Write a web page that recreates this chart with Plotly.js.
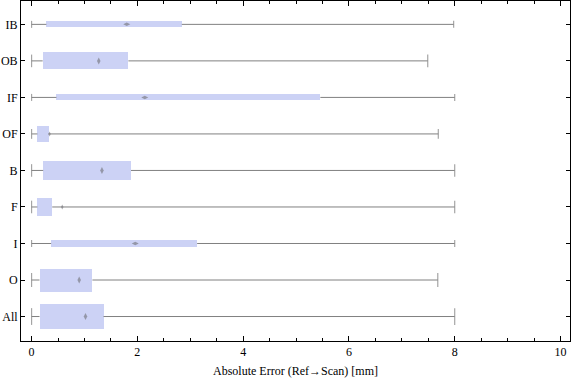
<!DOCTYPE html>
<html>
<head>
<meta charset="utf-8">
<script src="https://cdn.plot.ly/plotly-3.0.1.min.js"></script>
<style>html,body{margin:0;padding:0;background:#fff;}#chart{width:576px;height:381px;}</style>
</head>
<body>
<div id="chart"></div>
<script>
// Data (bottom to top)
const categories = ['All', 'O', 'I', 'F', 'B', 'OF', 'IF', 'OB', 'IB'];
const minVals    = [0, 0, 0, 0, 0, 0, 0, 0, 0];
const q1Vals     = [0.15, 0.15, 0.37, 0.11, 0.22, 0.11, 0.47, 0.21, 0.28];
const medianVals = [1.02, 0.90, 1.96, 0.58, 1.33, 0.34, 2.14, 1.27, 1.80];
const q3Vals     = [1.36, 1.15, 3.13, 0.39, 1.88, 0.32, 5.46, 1.83, 2.84];
const maxVals    = [8.00, 7.68, 8.00, 8.00, 8.00, 7.69, 8.00, 7.49, 7.98];

// Styles
const boxWidths   = [0.68, 0.63, 0.21, 0.48, 0.50, 0.44, 0.16, 0.47, 0.16];
const capSizes    = [12, 10, 5, 9, 9, 7, 5, 9, 5];
const medSymbols  = ['diamond-tall','diamond-tall','diamond-wide','diamond-tall','diamond-tall','diamond-tall','diamond-wide','diamond-tall','diamond-wide'];
const medSizes    = [5, 5, 5, 3.5, 5, 3.5, 5, 5, 5];

const ypos = categories.map((c, i) => i + 1);
const gray = 'rgb(128,128,128)';

// whisker segments
const wx = [], wy = [];
ypos.forEach((y, i) => {
  wx.push(minVals[i], q1Vals[i], null, q3Vals[i], maxVals[i], null);
  wy.push(y, y, null, y, y, null);
});

const capX = [], capY = [], capS = [];
ypos.forEach((y, i) => {
  capX.push(minVals[i], maxVals[i]);
  capY.push(y, y);
  capS.push(capSizes[i], capSizes[i]);
});

const traces = [
  {
    type: 'bar', orientation: 'h',
    y: ypos, x: q3Vals.map((v, i) => v - q1Vals[i]), base: q1Vals,
    width: boxWidths,
    marker: {color: 'rgb(204,210,245)', line: {width: 0}},
    hoverinfo: 'skip', showlegend: false
  },
  {
    type: 'scatter', mode: 'lines', x: wx, y: wy,
    line: {color: gray, width: 1}, hoverinfo: 'skip', showlegend: false
  },
  {
    type: 'scatter', mode: 'markers', x: capX, y: capY,
    marker: {symbol: 'line-ns', size: capS, line: {color: gray, width: 1.2}},
    hoverinfo: 'skip', showlegend: false
  },
  {
    type: 'scatter', mode: 'markers', x: medianVals, y: ypos,
    marker: {symbol: medSymbols, size: medSizes, color: 'rgba(110,110,115,0.85)', line: {width: 0}},
    hoverinfo: 'skip', showlegend: false
  }
];

const layout = {
  width: 576, height: 381,
  margin: {l: 21, r: 6, t: 1, b: 40},
  paper_bgcolor: '#fff', plot_bgcolor: '#fff',
  font: {family: 'Liberation Serif, Times New Roman, serif', color: '#000', size: 12},
  xaxis: {
    range: [-0.2, 10.18],
    tickvals: [0, 2, 4, 6, 8, 10],
    ticks: 'inside', ticklen: 5, tickwidth: 1, tickcolor: '#000',
    minor: {dtick: 0.5, tick0: 0, ticks: 'inside', ticklen: 3, tickwidth: 1, tickcolor: '#000'},
    showline: true, linecolor: '#000', linewidth: 1, mirror: 'allticks',
    showgrid: false, zeroline: false,
    tickfont: {size: 12, family: 'Liberation Serif, serif', color: '#000'},
    title: {text: 'Absolute Error (Ref\u2192Scan) [mm]', font: {size: 12, family: 'Liberation Serif, serif', color: '#000'}, standoff: 8}
  },
  yaxis: {
    range: [0.33, 9.64],
    tickvals: ypos, ticktext: categories,
    ticks: 'inside', ticklen: 4, tickwidth: 1, tickcolor: '#000',
    showline: true, linecolor: '#000', linewidth: 1, mirror: 'allticks',
    showgrid: false, zeroline: false,
    tickfont: {size: 12, family: 'Liberation Serif, serif', color: '#000'},
    automargin: false
  },
  bargap: 0,
  showlegend: false
};

Plotly.newPlot('chart', traces, layout, {displayModeBar: false, staticPlot: true});
</script>
</body>
</html>
